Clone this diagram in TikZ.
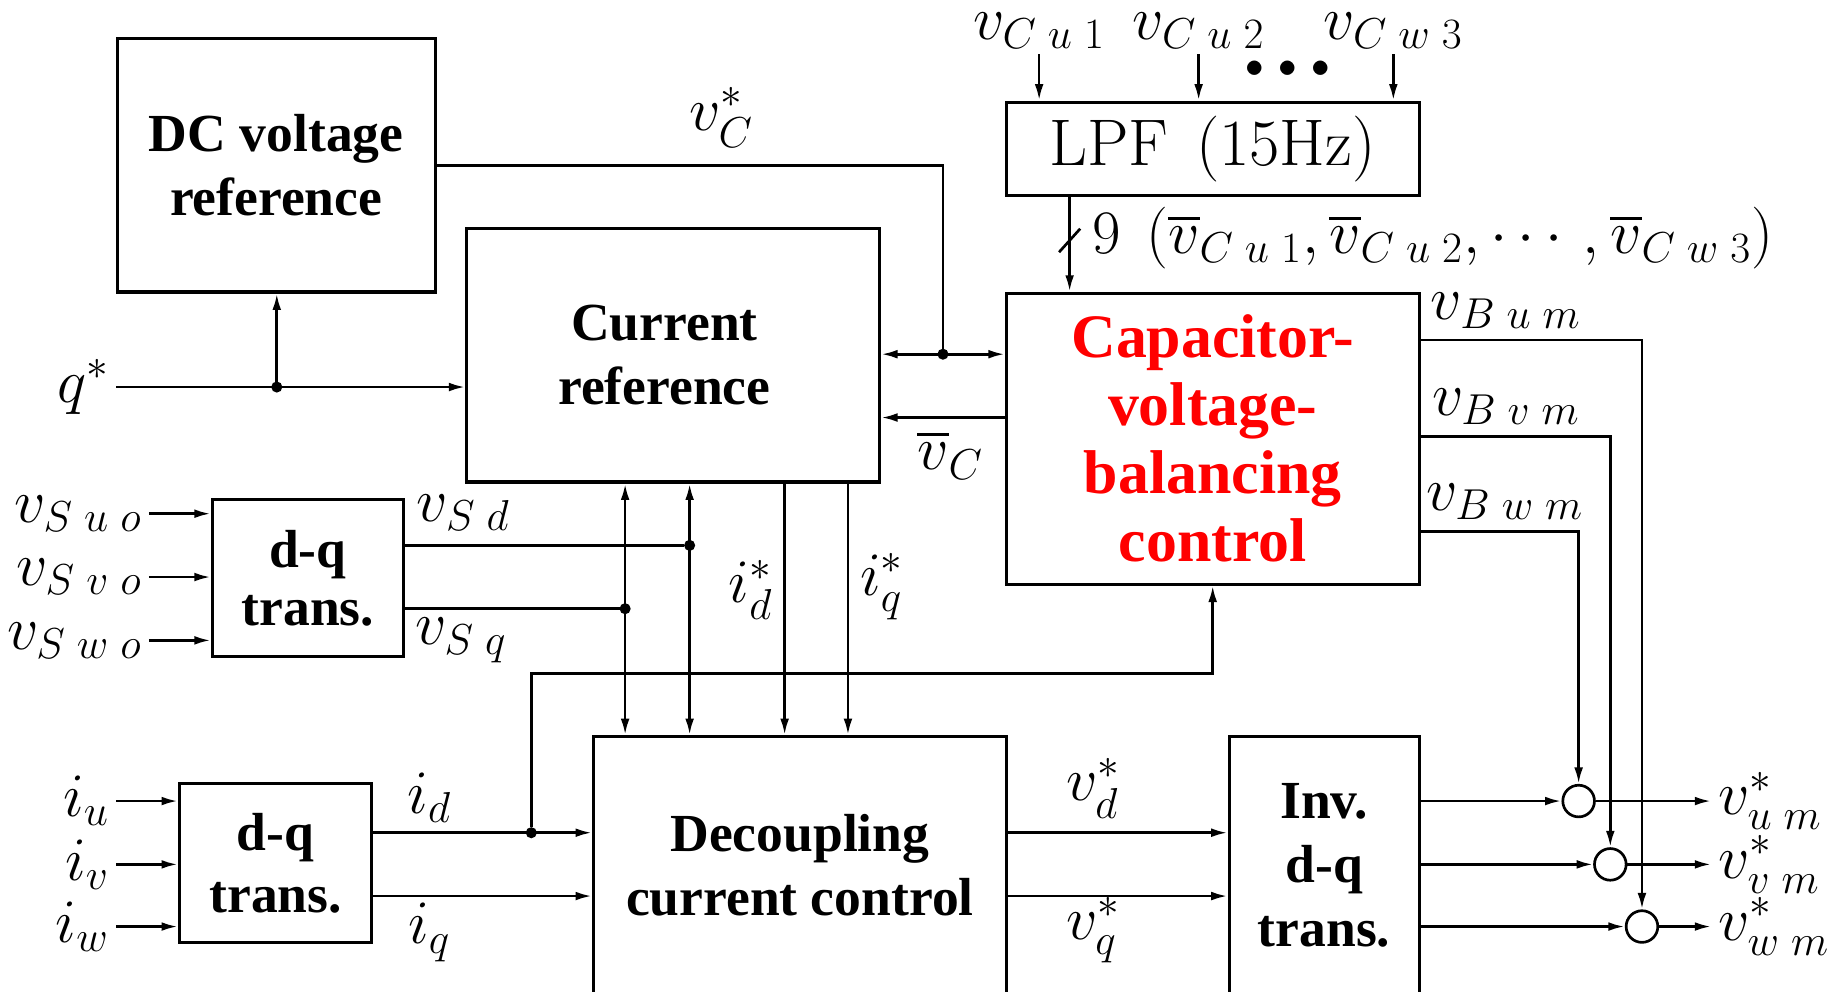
\RequirePackage{fix-cm}
\documentclass[tikz,border=0pt]{standalone}
\usepackage{amsmath, amssymb}
\usepackage[no-math]{fontspec}
\setmainfont{Liberation Serif}
\usepackage{tikz}
\usetikzlibrary{positioning, arrows.meta, calc}

\begin{document}
\begin{tikzpicture}[x=0.02cm, y=-0.02cm, >={Latex[length=0.28cm,width=0.15cm]}, line width=1.3pt,
  blk/.style={draw, line width=1.5pt, align=center, inner sep=0pt, font=\fontsize{26}{31}\selectfont\bfseries},
  lab/.style={inner sep=0pt, font=\fontsize{30}{32}\selectfont},
  jn/.style={circle, draw, fill, inner sep=0pt, minimum size=0.14cm},
  sumc/.style={circle, draw, inner sep=0pt, minimum size=0.54cm}]
  \useasboundingbox (0,0) rectangle (1568,845);
  \clip (0,0) rectangle (1568,845);

  \node[blk, minimum width=5.42cm, minimum height=4.32cm] (dcref) at (235.5,141) {DC voltage\\reference};
  \node[blk, minimum width=7.04cm, minimum height=4.32cm] (curref) at (574,303) {Current\hspace*{0.3cm}\\reference\hspace*{0.3cm}};
  \node[blk, minimum width=7.04cm, minimum height=1.6cm, font=\fontsize{32}{34}\selectfont] (lpf) at (1034,127) {$\mathrm{LPF}\ \,(15\mathrm{Hz})$};
  \node[blk, minimum width=7.04cm, minimum height=4.96cm, text=red, font=\fontsize{30}{33}\selectfont\bfseries] (cvbc) at (1034,374) {Capacitor-\\voltage-\\balancing\\control};
  \node[blk, minimum width=3.26cm, minimum height=2.68cm, font=\fontsize{26}{28}\selectfont\bfseries] (vdq) at (262.5,493) {d-q\\trans.};
  \node[blk, minimum width=3.28cm, minimum height=2.72cm, font=\fontsize{26}{30}\selectfont\bfseries] (idq) at (235,736) {d-q\\trans.};
  \node[blk, minimum width=7.04cm, minimum height=4.4cm] (dcc) at (682,738) {Decoupling\\current control};
  \node[blk, minimum width=3.24cm, minimum height=4.4cm] (inv) at (1129,738) {Inv.\\d-q\\trans.};

  \coordinate (yvb) at (0,356);
  \coordinate (lx) at (912,0);
  \coordinate (bus) at (912,205);
  \coordinate (yb1) at (0,290);
  \coordinate (yb2) at (0,372);
  \coordinate (yb3) at (0,453);
  \coordinate (yvd) at (0,710);
  \coordinate (yvq) at (0,764);
  \coordinate (xid) at (669,0);
  \coordinate (xiq) at (723,0);
  \coordinate (yfb) at (0,574);

  \node[lab, anchor=east] (qs) at (94,330) {$q^*$};
  \node[jn] (qj) at (236,330) {};
  \draw[->] ([xshift=0.1cm]qs.east) -- (qs.east -| curref.west);
  \draw[->] (qj) -- (qj |- dcref.south);

  \node[lab] (vcs) at (615,100) {$v_C^*$};
  \node[jn] (vj) at (804,302) {};
  \draw (dcref.east) -| (vj);
  \draw[->] (vj) -- (vj -| curref.east);
  \draw[->] (vj) -- (vj -| cvbc.west);
  \node[lab] (vcb) at (810,388) {$\overline{v}_C$};
  \draw[->] (cvbc.west |- yvb) -- (curref.east |- yvb);

  \node[lab] (vcu1) at (886,26) {$v_{C\;u\;1}$};
  \node[lab] (vcu2) at (1022,26) {$v_{C\;u\;2}$};
  \node[lab] (vcw3) at (1188,26) {$v_{C\;w\;3}$};
  \node[inner sep=0pt, font=\fontsize{18}{18}\selectfont] (dots) at (1098,59) {$\bullet\,\bullet\,\bullet$};
  \foreach \v in {vcu1, vcu2, vcw3}
    \draw[->] ([yshift=-0.08cm]\v.south) -- (\v.south |- lpf.north);
  \draw[->] (lpf.south -| lx) -- (cvbc.north -| lx);
  \draw ($(bus)+(-9,10)$) -- ($(bus)+(9,-10)$);
  \node[lab, anchor=west] (buslab) at (930,203) {$9\ \,(\overline{v}_{C\;u\;1},\overline{v}_{C\;u\;2},\cdots,\overline{v}_{C\;w\;3})$};

  \node[sumc] (su) at (1346,683) {};
  \node[sumc] (sv) at (1373,737) {};
  \node[sumc] (sw) at (1400,790) {};
  \node[lab] (vbum) at (1284,265) {$v_{B\;u\;m}$};
  \node[lab] (vbvm) at (1284,347) {$v_{B\;v\;m}$};
  \node[lab] (vbwm) at (1283,428) {$v_{B\;w\;m}$};
  \draw[->] (cvbc.east |- yb1) -| (sw.north);
  \draw[->] (cvbc.east |- yb2) -| (sv.north);
  \draw[->] (cvbc.east |- yb3) -| (su.north);
  \node[lab, anchor=west] (vum) at (1464,683) {$v^*_{u\;m}$};
  \node[lab, anchor=west] (vvm) at (1464,737) {$v^*_{v\;m}$};
  \node[lab, anchor=west] (vwm) at (1464,790) {$v^*_{w\;m}$};
  \foreach \s/\o in {su/vum, sv/vvm, sw/vwm} {
    \draw[->] (inv.east |- \s) -- (\s.west);
    \draw[->] (\s.east) -- ([xshift=-0.1cm]\o.west);
  }

  \node[lab] (vds) at (932,672) {$v_d^*$};
  \node[lab] (vqs) at (932,793) {$v_q^*$};
  \draw[->] (dcc.east |- yvd) -- (inv.west |- yvd);
  \draw[->] (dcc.east |- yvq) -- (inv.west |- yvq);

  \node[lab, anchor=east] (vsuo) at (122,438) {$v_{S\;u\;o}$};
  \node[lab, anchor=east] (vsvo) at (122,492) {$v_{S\;v\;o}$};
  \node[lab, anchor=east] (vswo) at (122,546) {$v_{S\;w\;o}$};
  \foreach \v in {vsuo, vsvo, vswo}
    \draw[->] ([xshift=0.1cm]\v.east) -- (\v.east -| vdq.west);
  \node[lab] (vsd) at (395,437) {$v_{S\;d}$};
  \node[lab] (vsq) at (393,546) {$v_{S\;q}$};
  \node[jn] (jd) at (588,465) {};
  \node[jn] (jq) at (533,519) {};
  \draw (vdq.east |- jd) -- (jd);
  \draw (vdq.east |- jq) -- (jq);
  \draw[<->] (jq |- curref.south) -- (jq |- dcc.north);
  \draw[<->] (jd |- curref.south) -- (jd |- dcc.north);
  \node[lab] (ids) at (640,503) {$i_d^*$};
  \node[lab] (iqs) at (752,500) {$i_q^*$};
  \draw[->] (curref.south -| xid) -- (dcc.north -| xid);
  \draw[->] (curref.south -| xiq) -- (dcc.north -| xiq);

  \node[lab, anchor=east] (iu) at (94,683) {$i_u$};
  \node[lab, anchor=east] (iv) at (94,737) {$i_v$};
  \node[lab, anchor=east] (iw) at (94,790) {$i_w$};
  \foreach \v in {iu, iv, iw}
    \draw[->] ([xshift=0.1cm]\v.east) -- (\v.east -| idq.west);
  \node[lab] (idl) at (366,680) {$i_d$};
  \node[lab] (iql) at (366,795) {$i_q$};
  \node[jn] (ji) at (453,710) {};
  \draw[->] (idq.east |- ji) -- (dcc.west |- ji);
  \draw[->] (idq.east |- yvq) -- (dcc.west |- yvq);
  \draw[->] (ji) |- (yfb -| cvbc.south) -- (cvbc.south);
\end{tikzpicture}
\end{document}
